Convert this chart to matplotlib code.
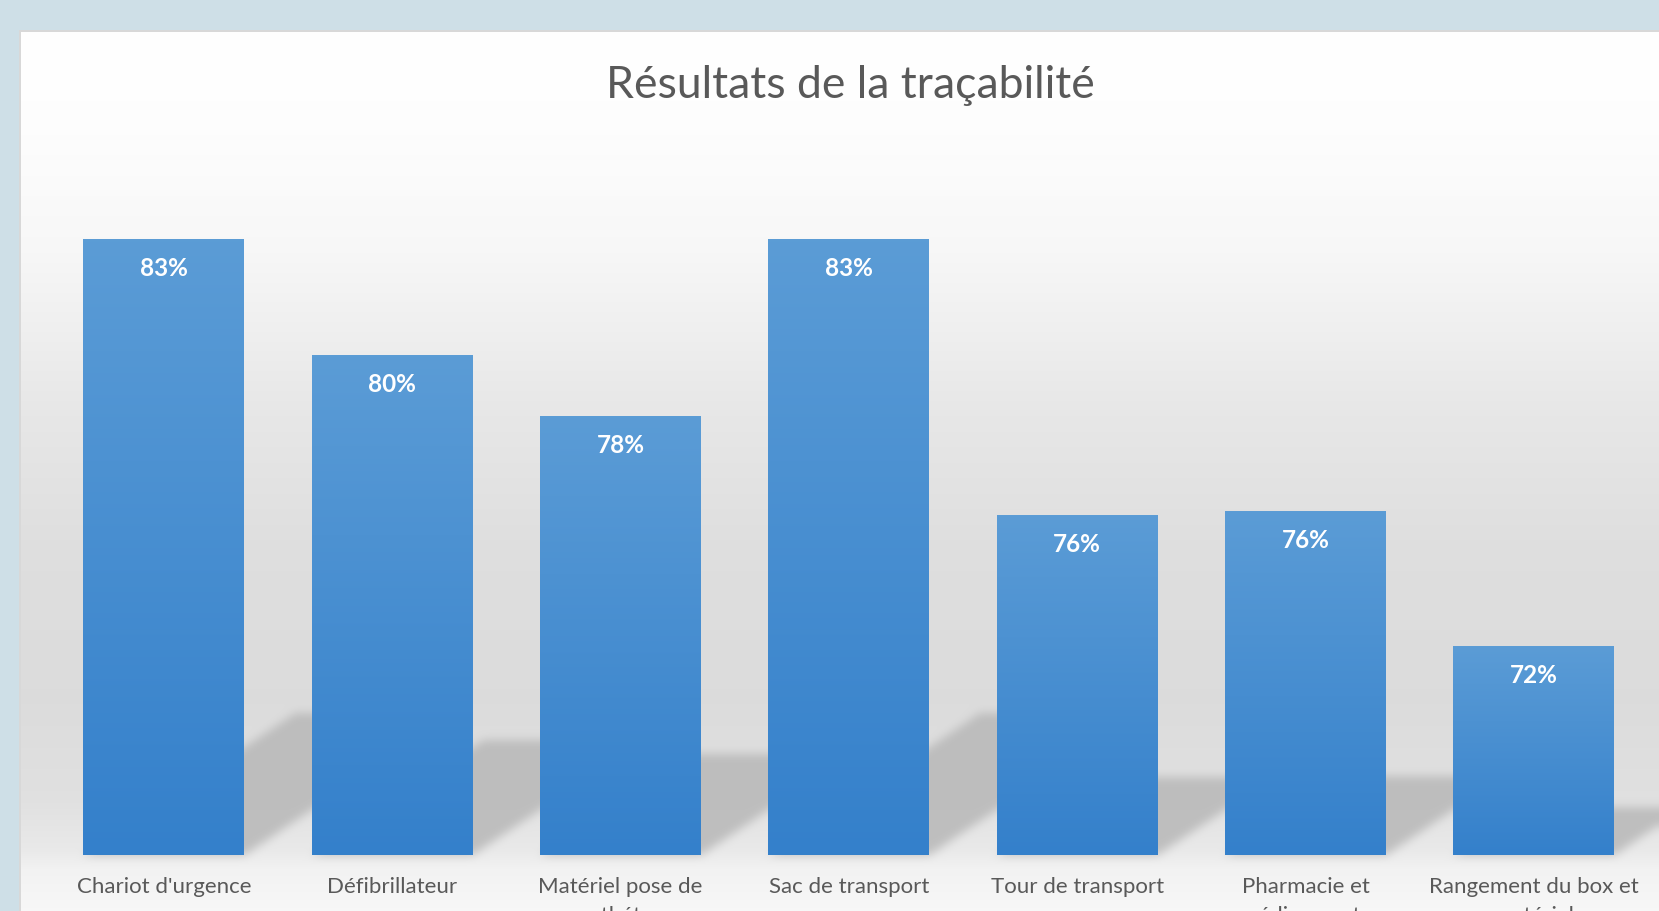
import numpy as np
import matplotlib
matplotlib.use("Agg")
import matplotlib.pyplot as plt

# data
categories = ["Chariot d'urgence", "Défibrillateur", "Matériel pose de\ncathéter",
              "Sac de transport", "Tour de transport", "Pharmacie et\nmédicaments",
              "Rangement du box et\nmatériel"]
values = [0.834, 0.801, 0.784, 0.834, 0.756, 0.757, 0.719]
title = "Résultats de la traçabilité"

W, H = 1659, 911
fig = plt.figure(figsize=(W / 100, H / 100), dpi=100)
fig.patch.set_facecolor("#CEE0E7")

ax = fig.add_axes([49.8 / W, (H - 855) / H, (1648 - 49.8) / W, 708 / H], zorder=2)
ax.set_facecolor("none")
x = np.arange(len(values))
bars = ax.bar(x, values, width=0.705, color="#3A83CC", zorder=2)
ax.set_xlim(-0.5, 6.5)
ax.set_ylim(0.66, 0.86)
for s in ax.spines.values():
    s.set_visible(False)
ax.set_yticks([])
ax.set_xticks(x)
ax.set_xticklabels(categories, fontsize=16, color="#595959", family="Lato",
                   va="top", linespacing=1.6)
ax.tick_params(axis="x", length=0, pad=15.5)

# gradient fill inside each bar
grad = np.linspace(0, 1, 256)[:, None]
top_c = np.array([0.357, 0.612, 0.839])
bot_c = np.array([0.204, 0.502, 0.796])
grad_img = top_c * (1 - grad[..., None]) + bot_c * grad[..., None]
ylo = ax.get_ylim()[0]
for p, v in zip(bars.patches, values):
    ax.imshow(grad_img, extent=[p.get_x(), p.get_x() + p.get_width(), ylo, v],
              aspect="auto", zorder=3, interpolation="bilinear")
    ax.annotate(f"{round(v * 100)}%", (p.get_x() + p.get_width() / 2, v),
                xytext=(0, -29), textcoords="offset pixels", ha="center", va="center",
                color="white", fontsize=17.5, fontweight="bold", family="Lato", zorder=4)
ax.set_xlim(-0.5, 6.5)
ax.set_ylim(0.66, 0.86)

# background panel: border, vertical gradient, perspective shadows
yy = np.arange(H) + 0.5
stops_y = [32, 120, 250, 400, 550, 700, 800, 850, 870, 911]
stops_v = [1.0, 0.995, 0.97, 0.91, 0.872, 0.862, 0.88, 0.915, 0.95, 0.97]
col = np.interp(yy, stops_y, stops_v)
img = np.ones((H, W, 3)) * np.array([0.808, 0.878, 0.906])
img[32:, 21:, :] = col[32:, None, None]

fig.canvas.draw()
px = np.arange(W) + 0.5
py = H - yy  # display y from bottom
PX, PY = np.meshgrid(px, py)
mask = np.zeros((H, W))
for p, v in zip(bars.patches, values):
    (x0, b), (x1, t) = ax.transData.transform([(p.get_x(), ylo), (p.get_x() + p.get_width(), v)])
    h = t - b
    u = (PY - b) / 0.23
    inside = (u >= 0) & (u <= h) & (PX >= x0 + 0.343 * u) & (PX <= x1 + 0.343 * u)
    mask[inside] = 1.0


def box_blur(a, r, axis):
    pad = [(0, 0), (0, 0)]
    pad[axis] = (r + 1, r)
    c = np.cumsum(np.pad(a, pad, mode="edge"), axis=axis)
    n = a.shape[axis]
    if axis == 0:
        return (c[2 * r + 1:2 * r + 1 + n] - c[:n]) / (2 * r + 1)
    return (c[:, 2 * r + 1:2 * r + 1 + n] - c[:, :n]) / (2 * r + 1)


for _ in range(3):
    mask = box_blur(mask, 4, 0)
    mask = box_blur(mask, 4, 1)
a = 0.85 * mask[..., None]
img = img * (1 - a) + 0.72 * a
img[:32, :, :] = np.array([0.808, 0.878, 0.906])
img[:, :19, :] = np.array([0.808, 0.878, 0.906])
img[30:32, 19:, :] = 0.85
img[30:, 19:21, :] = 0.85

bg = fig.add_axes([0, 0, 1, 1], zorder=0)
bg.imshow(img, extent=(0, W, 0, H), origin="upper", aspect="auto", interpolation="bilinear")
bg.set_xlim(0, W)
bg.set_ylim(0, H)
bg.axis("off")

fig.text(850 / W, 1 - 85 / H, title, ha="center", va="center", fontsize=32,
         color="#595959", family="Lato")

fig.savefig("out.png", dpi=100)
